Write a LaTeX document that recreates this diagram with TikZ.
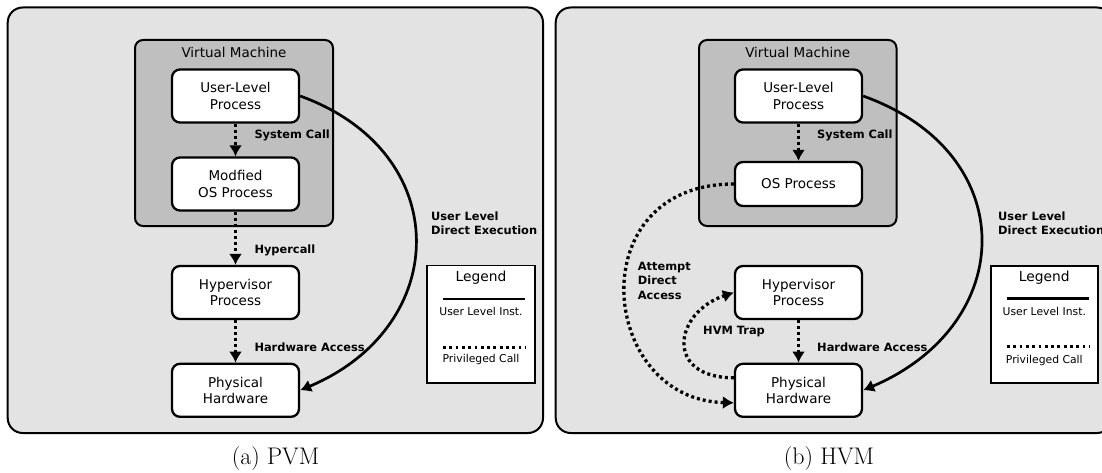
\documentclass[tikz,border=0pt]{standalone}
\usepackage{fontspec}
\newfontfamily\dejavu{DejaVu Sans}
\usetikzlibrary{arrows.meta}
\definecolor{panelgray}{RGB}{227,227,227}
\definecolor{vmgray}{RGB}{191,191,191}
\tikzset{
  panel/.style={draw=black, line width=2pt, fill=panelgray, rounded corners=15pt},
  vmbox/.style={draw=black, line width=2pt, fill=vmgray, rounded corners=8pt},
  procbox/.style={draw=black, line width=2.3pt, fill=white, rounded corners=8pt,
    minimum width=127pt, minimum height=53pt, inner sep=0pt, align=center,
    font=\dejavu\fontsize{13.5}{16.3}\selectfont},
  legbox/.style={draw=black, line width=1.7pt, fill=white},
  lbl/.style={anchor=west, inner sep=0pt, align=left,
    font=\dejavu\bfseries\fontsize{11.4}{13.8}\selectfont},
  vmtitle/.style={inner sep=0pt, font=\dejavu\fontsize{13.5}{16}\selectfont},
  legtitle/.style={inner sep=0pt, font=\dejavu\fontsize{13.8}{16}\selectfont},
  legtext/.style={inner sep=0pt, font=\dejavu\fontsize{10.8}{13}\selectfont},
  priv/.style={line width=3.3pt, dash pattern=on 3pt off 3pt,
    -{Latex[length=11pt,width=13pt]}},
  usr/.style={line width=2.7pt, -{Latex[length=11pt,width=13pt]}},
  caption/.style={inner sep=0pt, font=\fontsize{24}{28}\selectfont},
}
\begin{document}
\begin{tikzpicture}[x=1pt,y=-1pt]
\useasboundingbox (0,0) rectangle (1102,473);
\clip (0,0) rectangle (1102,473);
\fill[white] (0,0) rectangle (1102,473);

% ---------------- (a) PVM ----------------
\path[panel] (7.7,7.5) rectangle (543,433);
\path[vmbox] (135,40) rectangle (333,226);
\node[vmtitle] (vmA) at (234,52.5) {Virtual Machine};

\node[procbox] (ulA) at (235.5,96) {User-Level\\Process};
\node[procbox] (osA) at (235.5,184) {Modfied\\OS Process};
\node[procbox] (hvA) at (235.5,292.5) {Hypervisor\\Process};
\node[procbox] (phA) at (235.5,390.3) {Physical\\Hardware};

\draw[priv] (ulA) -- (osA);
\draw[priv] (osA) -- (hvA);
\draw[priv] (hvA) -- (phA);
\draw[usr] (ulA.east) .. controls +(155,56) and +(152,-64) .. (phA.east);

\node[lbl] (scA) at (254.3,135.5) {System Call};
\node[lbl] (hcA) at (254.3,250) {Hypercall};
\node[lbl] (haA) at (254.3,347) {Hardware Access};
\node[lbl] (deA) at (431,223.3) {User Level\\Direct Execution};

\path[legbox] (427,265.5) rectangle (535,383);
\node[legtitle] (lgA) at (481,277.3) {Legend};
\coordinate (lsA1) at (443,299);
\coordinate (lsA2) at (525,299);
\draw[line width=2.8pt] (lsA1) -- (lsA2);
\node[legtext] (luA) at (481,311.7) {User Level Inst.};
\coordinate (ldA1) at (443,347.7);
\coordinate (ldA2) at (525,347.7);
\draw[line width=2.6pt, dash pattern=on 2.8pt off 3.5pt] (ldA1) -- (ldA2);
\node[legtext] (lpA) at (481,359.5) {Privileged Call};

\node[caption] (capA) at (275.5,459) {(a) PVM};

% ---------------- (b) HVM ----------------
\path[panel] (555.7,7.5) rectangle (1112,433);
\path[vmbox] (699,40) rectangle (896.5,226);
\node[vmtitle] (vmB) at (797.7,52.5) {Virtual Machine};

\node[procbox] (ulB) at (798.5,96) {User-Level\\Process};
\node[procbox, minimum height=44pt] (osB) at (798.5,184) {OS Process};
\node[procbox] (hvB) at (798.5,292.5) {Hypervisor\\Process};
\node[procbox] (phB) at (798.5,390.3) {Physical\\Hardware};

\draw[priv] (ulB) -- (osB);
\draw[priv] (hvB) -- (phB);
\draw[usr] (ulB.east) .. controls +(159,57) and +(155,-66) .. (phB.east);
\draw[priv] (osB.west) .. controls +(-155,0) and +(-135,-3) .. ([yshift=-12.5pt]phB.west);
\draw[priv] ([yshift=12.5pt]phB.west) .. controls +(-70,0) and +(-60,20) .. (hvB.west);

\node[lbl] (scB) at (817,135.5) {System Call};
\node[lbl] (haB) at (817,347) {Hardware Access};
\node[lbl] (deB) at (998,223.3) {User Level\\Direct Execution};
\node[lbl, font=\dejavu\bfseries\fontsize{11.4}{14.5}\selectfont] (adB) at (637.7,280.5) {Attempt\\Direct\\Access};
\node[lbl] (htB) at (703,331.7) {HVM Trap};

\path[legbox] (990.7,265.7) rectangle (1098,382.7);
\node[legtitle] (lgB) at (1044.3,277.3) {Legend};
\coordinate (lsB1) at (1007,298.5);
\coordinate (lsB2) at (1089,298.5);
\draw[line width=2.8pt] (lsB1) -- (lsB2);
\node[legtext] (luB) at (1044.3,311) {User Level Inst.};
\coordinate (ldB1) at (1007,346.7);
\coordinate (ldB2) at (1089,346.7);
\draw[line width=2.6pt, dash pattern=on 2.8pt off 3.5pt] (ldB1) -- (ldB2);
\node[legtext] (lpB) at (1044.3,360.5) {Privileged Call};

\node[caption] (capB) at (829,459) {(b) HVM};
\end{tikzpicture}
\end{document}
